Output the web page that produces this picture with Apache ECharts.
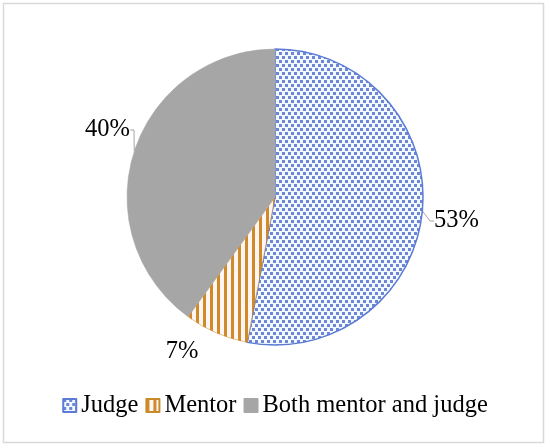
<!DOCTYPE html>
<html><head><meta charset="utf-8">
<script src="https://cdn.jsdelivr.net/npm/echarts@6/dist/echarts.min.js"></script>
<style>html,body{margin:0;padding:0;background:#fff}#c{width:550px;height:448px}</style>
</head><body><div id="c"></div>
<script>
const categories = ['Judge', 'Mentor', 'Both mentor and judge'];
const values = [53, 7, 40];

function dotPattern() {
  const c = document.createElement('canvas'); c.width = 6; c.height = 8;
  const g = c.getContext('2d');
  g.fillStyle = '#f2faff'; g.fillRect(0, 0, 6, 8);
  g.fillStyle = '#6f86d6';
  g.fillRect(0, 0, 3, 3); g.fillRect(3, 4, 3, 3);
  return c;
}
function stripePattern() {
  const c = document.createElement('canvas'); c.width = 7; c.height = 7;
  const g = c.getContext('2d');
  g.fillStyle = '#fff5f2'; g.fillRect(0, 0, 7, 7);
  g.fillStyle = '#cf8a2c'; g.fillRect(0, 0, 3, 7);
  return c;
}
const colors = [
  { image: dotPattern(), repeat: 'repeat' },
  { image: stripePattern(), repeat: 'repeat' },
  '#a6a6a6'
];
const borders = ['#5b7bd5', '#c98a2a', '#a6a6a6'];
const labelPos = [
  { x: 434, y: 221, align: 'left', verticalAlign: 'middle' },
  { x: 182, y: 352, align: 'center', verticalAlign: 'middle' },
  { x: 130, y: 130, align: 'right', verticalAlign: 'middle' }
];

const chart = echarts.init(document.getElementById('c'));
chart.setOption({
  animation: false,
  graphic: [{ type: 'rect', shape: { x: 3.5, y: 3.5, width: 540, height: 439 },
    style: { fill: 'none', stroke: '#d9d9d9', lineWidth: 1.5 } }],
  legend: {
    bottom: 25, left: 'center', itemWidth: 13, itemHeight: 13, itemGap: 7, icon: 'rect',
    textStyle: { fontFamily: 'Liberation Serif', fontSize: 24.5, color: '#000' },
    data: categories
  },
  series: [{
    type: 'pie', center: [275, 197], radius: 148, startAngle: 90, clockwise: true,
    data: categories.map((n, i) => ({ name: n, value: values[i],
      labelLine: { show: i !== 1 },
      itemStyle: { color: colors[i], borderColor: borders[i], borderWidth: i === 0 ? 1.5 : 0.5 } })),
    label: { show: true, position: 'outside', formatter: '{c}%',
      fontFamily: 'Liberation Serif', fontSize: 24.5, color: '#000' },
    labelLine: { show: true, length: 6, length2: 4, lineStyle: { color: '#a6a6a6', width: 1 } },
    labelLayout: p => labelPos[p.dataIndex]
  }]
});
</script></body></html>
